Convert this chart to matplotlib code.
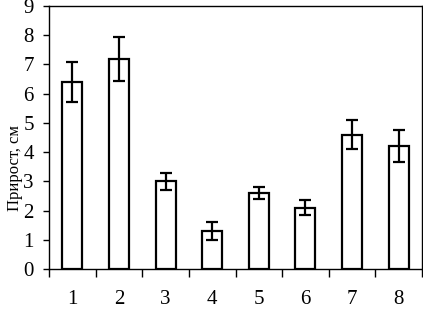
import matplotlib
matplotlib.use("Agg")
import matplotlib.pyplot as plt
import numpy as np

categories = ["1", "2", "3", "4", "5", "6", "7", "8"]
values = [6.4, 7.2, 3.0, 1.3, 2.6, 2.1, 4.6, 4.2]
errors = [0.7, 0.75, 0.3, 0.32, 0.2, 0.25, 0.5, 0.55]
yticks = list(range(0, 10))

plt.rcParams['font.family'] = ['Liberation Serif', 'DejaVu Serif']

fig = plt.figure(figsize=(4.23, 3.10), dpi=100)
ax = fig.add_axes([49/423, 41/310, 373/423, 263/310])

x = np.arange(len(categories))
ax.bar(x, values, width=0.43, color='white', edgecolor='black', linewidth=1.6,
       yerr=errors, error_kw=dict(ecolor='black', elinewidth=1.6, capsize=4.5, capthick=1.6))

ax.set_xlim(-0.5, len(categories) - 0.5)
ax.set_ylim(0, 9)
ax.set_yticks(yticks)
ax.set_yticklabels([str(t) for t in yticks], fontsize=15)
ax.tick_params(axis='y', direction='out', length=4, width=1, pad=7)

ax.set_xticks(np.arange(len(categories) + 1) - 0.5)
ax.set_xticklabels([])
ax.tick_params(axis='x', which='major', direction='out', length=6, width=1)
ax.set_xticks(x, minor=True)
ax.set_xticklabels(categories, minor=True, fontsize=15)
ax.tick_params(axis='x', which='minor', length=0, pad=15)

for s in ax.spines.values():
    s.set_linewidth(1)

ax.set_ylabel("Прирост, см", fontsize=12)
ax.yaxis.set_label_coords((23 - 49) / 373, (269 - 168) / 263)

fig.savefig("out.png", dpi=100)
